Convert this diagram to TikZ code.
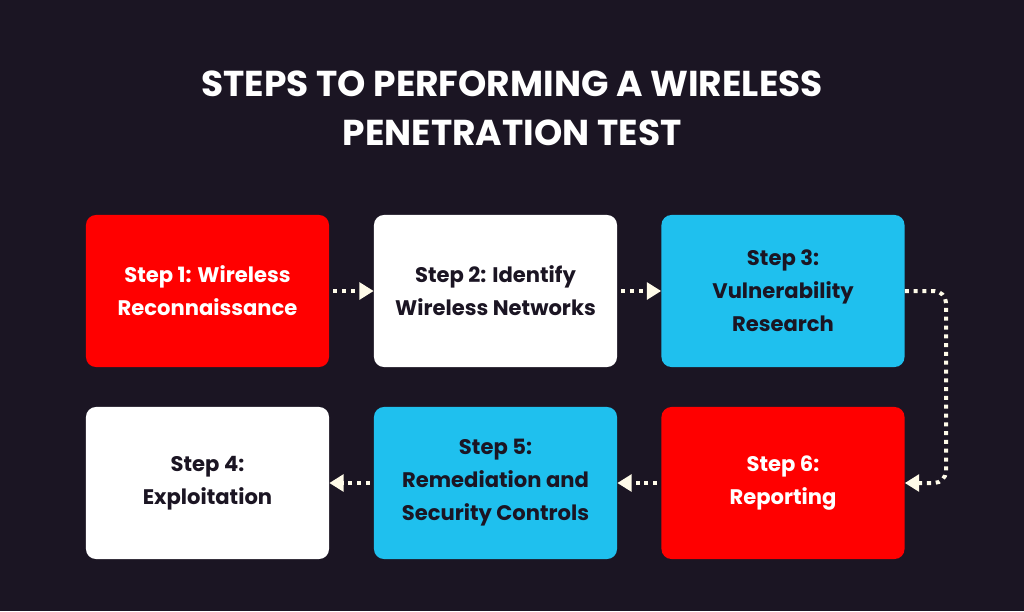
\documentclass[tikz,border=0pt]{standalone}
\usepackage{fontspec}
\setmainfont{Poppins}
\usetikzlibrary{arrows.meta,positioning}
\definecolor{bgdark}{HTML}{1B1523}
\definecolor{stepred}{HTML}{FF0000}
\definecolor{stepcyan}{HTML}{1FC0EE}
\definecolor{cream}{HTML}{FFFBE9}
\tikzset{
  stepbox/.style={rounded corners=0.25cm, minimum width=6.075cm, minimum height=3.8cm,
    align=center, inner sep=0pt, font=\fontsize{15}{23.5}\selectfont\bfseries},
  redbox/.style={stepbox, fill=stepred, text=white},
  whitebox/.style={stepbox, fill=white, text=bgdark},
  cyanbox/.style={stepbox, fill=stepcyan, text=bgdark},
  flow/.style={draw=cream, line width=0.1cm, dash pattern=on 0.1cm off 0.12cm,
    -{Triangle[length=0.36cm,width=0.42cm,fill=cream]}},
}
\begin{document}
\begin{tikzpicture}[x=0.025cm,y=-0.025cm]
\fill[bgdark] (0,0) rectangle (1024,611);
\useasboundingbox (0,0) rectangle (1024,611);
\node[align=center, text=white, font=\fontsize{25.6}{35}\selectfont\bfseries] (title) at (512,108)
  {STEPS TO PERFORMING A WIRELESS\\PENETRATION TEST};
% top row
\node[redbox] (s1) at (207.5,291) {Step 1: Wireless\\Reconnaissance};
\node[whitebox] (s2) at (495.5,291) {Step 2: Identify\\Wireless Networks};
\node[cyanbox] (s3) at (783,291) {Step 3:\\Vulnerability\\Research};
% bottom row
\node[whitebox] (s4) at (207.5,483) {Step 4:\\Exploitation};
\node[cyanbox] (s5) at (495.5,483) {Step 5:\\Remediation and\\Security Controls};
\node[redbox] (s6) at (783,483) {Step 6:\\Reporting};
\coordinate (turn) at (946,0);
\draw[flow] (s1.east) ++(4,0) -- (s2.west);
\draw[flow] (s2.east) ++(4,0) -- (s3.west);
\draw[flow, rounded corners=0.3cm] (s3.east) -- (s3.east -| turn) -- (s6.east -| turn) -- (s6.east);
\draw[flow] (s6.west) ++(-4,0) -- (s5.east);
\draw[flow] (s5.west) ++(-4,0) -- (s4.east);
\end{tikzpicture}
\end{document}
